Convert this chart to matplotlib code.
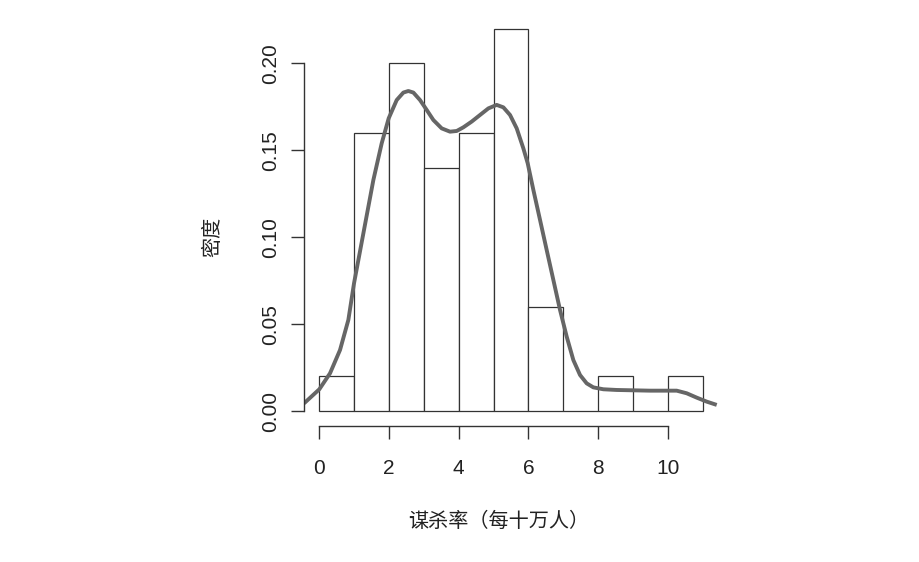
import matplotlib
matplotlib.use("Agg")
import matplotlib.pyplot as plt

plt.rcParams['font.family'] = ['Liberation Sans', 'Noto Sans CJK SC', 'DejaVu Sans']

# Histogram (density) data
bin_edges = [0, 1, 2, 3, 4, 5, 6, 7, 8, 9, 10, 11]
densities = [0.02, 0.16, 0.20, 0.14, 0.16, 0.22, 0.06, 0.00, 0.02, 0.00, 0.02]

# Density curve
kde_x = [-0.439, 0.0, 0.307, 0.594, 0.833, 0.996, 1.264, 1.551, 1.790, 1.991,
         2.221, 2.412, 2.555, 2.699, 2.890, 3.082, 3.273, 3.512, 3.751, 3.943,
         4.134, 4.373, 4.612, 4.852, 5.091, 5.282, 5.474, 5.665, 5.856, 5.981,
         6.143, 6.335, 6.526, 6.717, 6.909, 7.100, 7.291, 7.483, 7.674, 7.865,
         8.152, 8.535, 9.013, 9.492, 9.999, 10.257, 10.544, 10.831, 11.118, 11.406]
kde_y = [0.0044, 0.0125, 0.0217, 0.0351, 0.0524, 0.0735, 0.1022, 0.1329, 0.1540, 0.1684,
         0.1789, 0.1832, 0.1841, 0.1832, 0.1789, 0.1732, 0.1674, 0.1626, 0.1607, 0.1611,
         0.1632, 0.1665, 0.1703, 0.1741, 0.1761, 0.1747, 0.1703, 0.1626, 0.1511, 0.1425,
         0.1272, 0.1099, 0.0926, 0.0754, 0.0581, 0.0428, 0.0293, 0.0207, 0.0159, 0.0136,
         0.0125, 0.0121, 0.0119, 0.0117, 0.0117, 0.0117, 0.0102, 0.0077, 0.0054, 0.0035]

x_ticks = [0, 2, 4, 6, 8, 10]
y_ticks = [0.00, 0.05, 0.10, 0.15, 0.20]
y_tick_labels = ["0.00", "0.05", "0.10", "0.15", "0.20"]
x_label = "谋杀率（每十万人）"
y_label = "密度"

W, H = 920, 562
fig = plt.figure(figsize=(W / 100, H / 100), dpi=100)
ax = fig.add_axes([304 / W, (H - 426.3) / H, (717.9 - 304) / W, (426.3 - 13.3) / H])

edge = "#333333"
lefts = bin_edges[:-1]
widths = [b - a for a, b in zip(bin_edges[:-1], bin_edges[1:])]
ax.bar(lefts, densities, width=widths, align='edge', facecolor='white',
       edgecolor=edge, linewidth=0.9)

ax.plot(kde_x, kde_y, color="#666666", linewidth=2.8, solid_capstyle='butt',
        solid_joinstyle='round')

ax.set_xlim(-0.44, 11.44)
ax.set_ylim(-0.0088, 0.2288)

for s in ['top', 'right']:
    ax.spines[s].set_visible(False)
ax.spines['bottom'].set_bounds(0, 10)
ax.spines['left'].set_bounds(0, 0.2)
for s in ['bottom', 'left']:
    ax.spines[s].set_color(edge)
    ax.spines[s].set_linewidth(1.0)

ax.set_xticks(x_ticks)
ax.set_xticklabels([str(t) for t in x_ticks])
ax.set_yticks(y_ticks)
ax.set_yticklabels(y_tick_labels, rotation=90, va='center')
ax.tick_params(axis='both', length=9.5, width=1.0, color=edge, labelsize=15,
               labelcolor='#222222')
ax.tick_params(axis='x', pad=14)
ax.tick_params(axis='y', pad=8)

fig.text(499 / W, 1 - 521 / H, x_label, ha='center', va='center', fontsize=14.5,
         color='#222222', family=['Noto Sans CJK SC', 'DejaVu Sans'])
fig.text(213 / W, 1 - 237 / H, y_label, ha='center', va='center', fontsize=14.5,
         rotation=90, color='#222222', family=['Noto Sans CJK SC', 'DejaVu Sans'])

fig.savefig("out.png", dpi=100, facecolor='white')
